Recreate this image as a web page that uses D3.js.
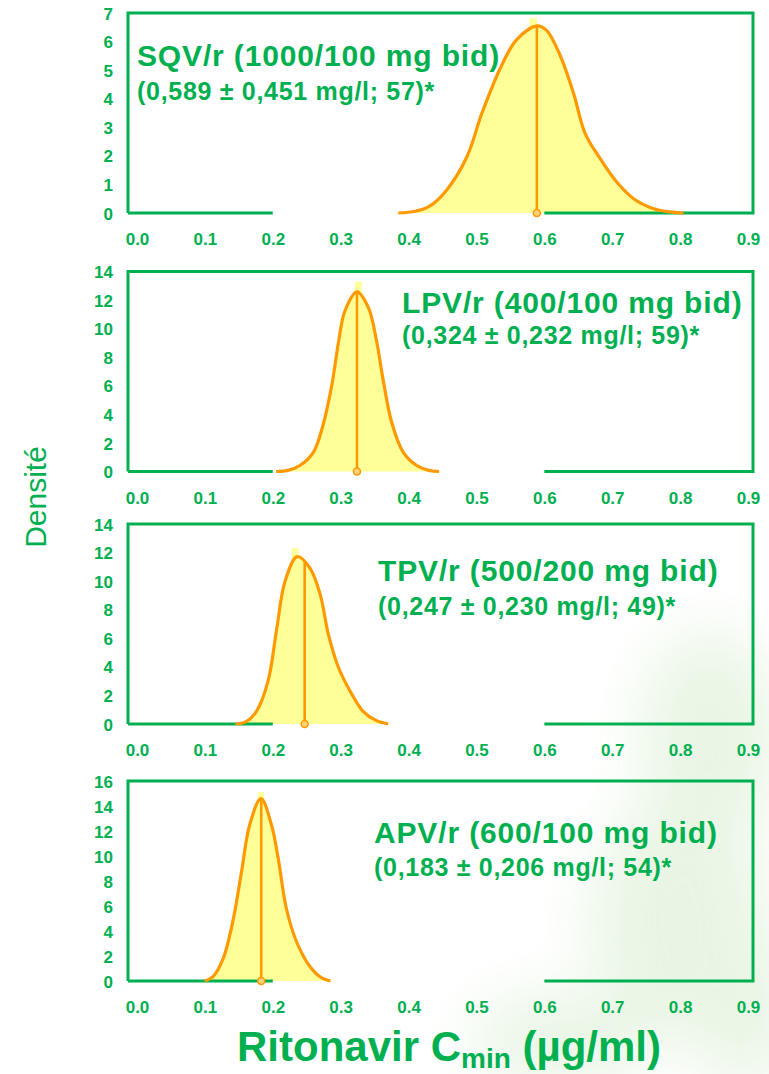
<!DOCTYPE html>
<html>
<head>
<meta charset="utf-8">
<script src="https://cdn.jsdelivr.net/npm/d3@7/dist/d3.min.js"></script>
<style>
  html, body { margin: 0; padding: 0; background: #fff; }
  svg { display: block; }
  text { font-family: "Liberation Sans", Arial, Helvetica, sans-serif; }
</style>
</head>
<body>
<svg id="chart" width="769" height="1074"></svg>
<script>
// ---- data ----
const regimens = [
  "SQV/r (1000/100 mg bid)",
  "LPV/r (400/100 mg bid)",
  "TPV/r (500/200 mg bid)",
  "APV/r (600/100 mg bid)"
];
const summaries = [
  "(0,589 \u00B1 0,451 mg/l; 57)*",
  "(0,324 \u00B1 0,232 mg/l; 59)*",
  "(0,247 \u00B1 0,230 mg/l; 49)*",
  "(0,183 \u00B1 0,206 mg/l; 54)*"
];
const means = [0.589, 0.324, 0.247, 0.183];
const meanDensity = [6.55, 12.57, 11.37, 14.6];
const yMaxes = [7, 14, 14, 16];
const yTickSteps = [1, 2, 2, 2];
const xTicks = [0, 0.1, 0.2, 0.3, 0.4, 0.5, 0.6, 0.7, 0.8, 0.9];

// fitted density curves: [Cmin, density]
const sqvCurve = [
  [0.385, 0.0], [0.410, 0.06], [0.431, 0.24], [0.456, 0.80], [0.486, 1.97],
  [0.508, 3.49], [0.535, 5.06], [0.559, 6.06], [0.589, 6.55], [0.603, 6.40],
  [0.623, 5.53], [0.643, 4.19], [0.660, 2.79], [0.682, 1.91], [0.706, 1.10],
  [0.731, 0.51], [0.760, 0.16], [0.785, 0.04], [0.805, 0.0]
];
const lpvCurve = [
  [0.205, 0.0], [0.222, 0.08], [0.240, 0.42], [0.260, 1.36], [0.274, 3.24],
  [0.287, 6.05], [0.297, 9.10], [0.306, 11.2], [0.324, 12.57], [0.341, 11.45],
  [0.353, 9.10], [0.363, 6.29], [0.375, 3.47], [0.392, 1.36], [0.412, 0.42],
  [0.430, 0.08], [0.445, 0.0]
];
const tpvCurve = [
  [0.145, 0.0], [0.160, 0.15], [0.176, 0.89], [0.193, 3.00], [0.206, 6.72],
  [0.218, 9.98], [0.236, 11.72], [0.255, 10.90], [0.270, 9.04], [0.282, 6.25],
  [0.296, 4.04], [0.314, 2.29], [0.333, 0.89], [0.352, 0.25], [0.370, 0.0]
];
const apvCurve = [
  [0.100, 0.0], [0.112, 0.35], [0.127, 1.81], [0.142, 5.00], [0.154, 8.74],
  [0.166, 12.5], [0.1826, 14.6], [0.198, 12.5], [0.208, 9.8], [0.220, 5.8],
  [0.235, 3.14], [0.255, 1.14], [0.272, 0.25], [0.285, 0.0]
];
const curves = [sqvCurve, lpvCurve, tpvCurve, apvCurve];

// tallest histogram bin of each sample: [bin start, bin end, density]
const modalBins = [
  [0.578, 0.589, 6.82],
  [0.321, 0.331, 13.3],
  [0.228, 0.238, 12.3],
  [0.178, 0.187, 15.1]
];

// ---- layout ----
const green = "#00B050", orange = "#FF9900", yellow = "#FFFF99";
const frameLeft = 128, frameRight = 753;
const panelTops = [13, 271.5, 524, 781];
const panelH = 200;
const titlePos = [[137, 66], [402, 313], [378, 581], [374, 843]];
const subGap = [34, 31, 34, 33];

const svg = d3.select("#chart");

// soft leafy backdrop in the lower right
const defs = svg.append("defs");
const blur = defs.append("filter").attr("id", "soft")
  .attr("x", "-50%").attr("y", "-50%").attr("width", "200%").attr("height", "200%");
blur.append("feGaussianBlur").attr("stdDeviation", 30);
const haze = svg.append("g").attr("filter", "url(#soft)").attr("opacity", 0.45);
[[710, 740, 70, 110], [680, 920, 90, 120], [560, 1040, 90, 45], [745, 1010, 50, 80]]
  .forEach(([cx, cy, rx, ry]) => haze.append("ellipse")
    .attr("cx", cx).attr("cy", cy).attr("rx", rx).attr("ry", ry)
    .attr("fill", "#cfe9c4"));

const x = d3.scaleLinear().domain([0, 0.9]).range([137, 748]);
const smooth = d3.curveCatmullRom.alpha(0.5);

curves.forEach((curve, i) => {
  const top = panelTops[i], bottom = top + panelH;
  const y = d3.scaleLinear().domain([0, yMaxes[i]]).range([bottom, top]);
  const g = svg.append("g");

  // histogram fill under the curve
  g.append("path")
    .datum(curve)
    .attr("fill", yellow)
    .attr("d", d3.area().x(d => x(d[0])).y0(y(0)).y1(d => y(d[1])).curve(smooth));
  const b = modalBins[i];
  g.append("rect")
    .attr("x", x(b[0])).attr("width", x(b[1]) - x(b[0]))
    .attr("y", y(b[2])).attr("height", y(0) - y(b[2]))
    .attr("fill", yellow);

  // frame: left, top, right and the two visible stretches of the baseline
  const frame = d3.path();
  frame.moveTo(frameLeft, bottom); frame.lineTo(frameLeft, top);
  frame.lineTo(frameRight, top); frame.lineTo(frameRight, bottom);
  frame.lineTo(x(0.6), bottom);
  frame.moveTo(frameLeft, bottom); frame.lineTo(x(0.2), bottom);
  g.append("path").attr("d", frame.toString())
    .attr("fill", "none").attr("stroke", green).attr("stroke-width", 3)
    .attr("stroke-linejoin", "miter");

  // density curve
  g.append("path")
    .datum(curve)
    .attr("fill", "none").attr("stroke", orange).attr("stroke-width", 3.2)
    .attr("stroke-linejoin", "round")
    .attr("d", d3.line().x(d => x(d[0])).y(d => y(d[1])).curve(smooth));

  // mean marker
  g.append("line")
    .attr("x1", x(means[i])).attr("x2", x(means[i]))
    .attr("y1", y(0)).attr("y2", y(meanDensity[i]))
    .attr("stroke", orange).attr("stroke-width", 2.6);
  g.append("circle")
    .attr("cx", x(means[i])).attr("cy", y(0)).attr("r", 3.5)
    .attr("fill", "#FFD27A").attr("stroke", orange).attr("stroke-width", 1.5);

  // y axis labels
  const yAxis = d3.axisLeft(y).tickValues(d3.range(0, yMaxes[i] + 0.001, yTickSteps[i]))
    .tickSize(0).tickPadding(0).tickFormat(d3.format("d"));
  const ya = g.append("g").attr("transform", `translate(113,0)`).call(yAxis);
  ya.select(".domain").remove();
  ya.selectAll("text")
    .attr("fill", green).attr("font-size", 17).attr("font-weight", "bold")
    .attr("font-family", "'Liberation Sans', Arial, sans-serif")
    .attr("dy", "0.36em");

  // x axis labels
  const xAxis = d3.axisBottom(x).tickValues(xTicks).tickSize(0).tickPadding(0)
    .tickFormat(d3.format(".1f"));
  const xa = g.append("g").attr("transform", `translate(0,${bottom + 20})`).call(xAxis);
  xa.select(".domain").remove();
  xa.selectAll("text")
    .attr("fill", green).attr("font-size", 17).attr("font-weight", "bold")
    .attr("font-family", "'Liberation Sans', Arial, sans-serif")
    .attr("dy", "0.71em");

  // regimen title and summary
  const [tx, ty] = titlePos[i];
  g.append("text").attr("x", tx).attr("y", ty)
    .attr("fill", green).attr("font-size", 30).attr("font-weight", "bold")
    .attr("letter-spacing", 0.85)
    .text(regimens[i]);
  g.append("text").attr("x", tx).attr("y", ty + subGap[i])
    .attr("fill", green).attr("font-size", 25).attr("font-weight", "bold")
    .attr("letter-spacing", 0.7)
    .text(summaries[i]);
});

// axis titles
svg.append("text")
  .attr("transform", "translate(46,497) rotate(-90)")
  .attr("text-anchor", "middle")
  .attr("fill", green).attr("font-size", 30)
  .text("Densit\u00E9");

const xt = svg.append("text")
  .attr("x", 237).attr("y", 1061)
  .attr("fill", green).attr("font-size", 42).attr("font-weight", "bold");
xt.append("tspan").text("Ritonavir C");
xt.append("tspan").attr("font-size", 28).attr("dy", 7).text("min");
xt.append("tspan").attr("dy", -7).text(" (\u00B5g/ml)");
</script>
</body>
</html>
